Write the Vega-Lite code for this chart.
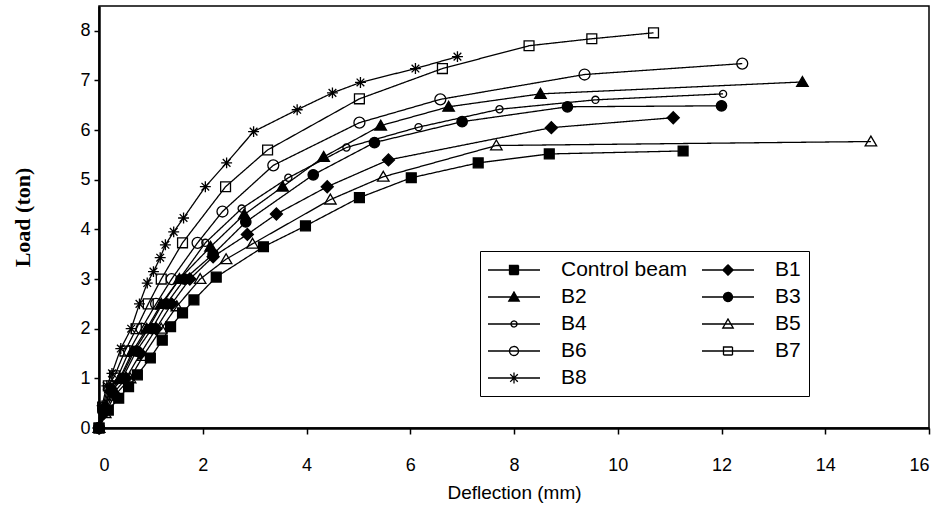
{
  "$schema": "https://vega.github.io/schema/vega-lite/v6.json",
  "width": 830,
  "height": 422,
  "autosize": {"type": "none"},
  "padding": {"left": 99, "top": 6, "right": 19, "bottom": 84},
  "config": {
    "view": {"stroke": "black", "strokeWidth": 1.5},
    "font": "Liberation Sans",
    "axis": {"domainColor": "black", "domainWidth": 2.5, "tickColor": "black", "tickWidth": 1.5, "grid": false, "labelColor": "black", "titleColor": "black", "labelFont": "Liberation Sans", "labelFontSize": 18}
  },
  "data": {
    "values": [
      {"s": "Control beam", "x": 0, "y": 0}, {"s": "Control beam", "x": 0.18, "y": 0.36}, {"s": "Control beam", "x": 0.38, "y": 0.6}, {"s": "Control beam", "x": 0.57, "y": 0.83}, {"s": "Control beam", "x": 0.74, "y": 1.07}, {"s": "Control beam", "x": 0.99, "y": 1.41}, {"s": "Control beam", "x": 1.22, "y": 1.77}, {"s": "Control beam", "x": 1.38, "y": 2.04}, {"s": "Control beam", "x": 1.61, "y": 2.32}, {"s": "Control beam", "x": 1.83, "y": 2.58}, {"s": "Control beam", "x": 2.26, "y": 3.04}, {"s": "Control beam", "x": 3.17, "y": 3.65}, {"s": "Control beam", "x": 3.98, "y": 4.07}, {"s": "Control beam", "x": 5.02, "y": 4.64}, {"s": "Control beam", "x": 6.02, "y": 5.04}, {"s": "Control beam", "x": 7.31, "y": 5.34}, {"s": "Control beam", "x": 8.68, "y": 5.52}, {"s": "Control beam", "x": 11.26, "y": 5.58},
      {"s": "B1", "x": 0, "y": 0}, {"s": "B1", "x": 0.1, "y": 0.3}, {"s": "B1", "x": 0.28, "y": 0.7}, {"s": "B1", "x": 0.52, "y": 1.0}, {"s": "B1", "x": 0.8, "y": 1.5}, {"s": "B1", "x": 1.1, "y": 2.0}, {"s": "B1", "x": 1.4, "y": 2.5}, {"s": "B1", "x": 1.75, "y": 3.0}, {"s": "B1", "x": 2.2, "y": 3.45}, {"s": "B1", "x": 2.86, "y": 3.9}, {"s": "B1", "x": 3.42, "y": 4.31}, {"s": "B1", "x": 4.4, "y": 4.86}, {"s": "B1", "x": 5.58, "y": 5.4}, {"s": "B1", "x": 8.72, "y": 6.05}, {"s": "B1", "x": 11.07, "y": 6.25},
      {"s": "B2", "x": 0, "y": 0}, {"s": "B2", "x": 0.1, "y": 0.4}, {"s": "B2", "x": 0.22, "y": 0.8}, {"s": "B2", "x": 0.4, "y": 1.0}, {"s": "B2", "x": 0.65, "y": 1.55}, {"s": "B2", "x": 0.92, "y": 2.0}, {"s": "B2", "x": 1.2, "y": 2.5}, {"s": "B2", "x": 1.55, "y": 3.0}, {"s": "B2", "x": 2.15, "y": 3.65}, {"s": "B2", "x": 2.8, "y": 4.3}, {"s": "B2", "x": 3.54, "y": 4.86}, {"s": "B2", "x": 4.33, "y": 5.46}, {"s": "B2", "x": 5.43, "y": 6.09}, {"s": "B2", "x": 6.74, "y": 6.47}, {"s": "B2", "x": 8.51, "y": 6.73}, {"s": "B2", "x": 13.56, "y": 6.97},
      {"s": "B3", "x": 0, "y": 0}, {"s": "B3", "x": 0.1, "y": 0.35}, {"s": "B3", "x": 0.25, "y": 0.75}, {"s": "B3", "x": 0.45, "y": 1.0}, {"s": "B3", "x": 0.72, "y": 1.55}, {"s": "B3", "x": 1.02, "y": 2.0}, {"s": "B3", "x": 1.3, "y": 2.5}, {"s": "B3", "x": 1.65, "y": 3.0}, {"s": "B3", "x": 2.2, "y": 3.5}, {"s": "B3", "x": 2.83, "y": 4.15}, {"s": "B3", "x": 4.13, "y": 5.1}, {"s": "B3", "x": 5.31, "y": 5.75}, {"s": "B3", "x": 7.0, "y": 6.17}, {"s": "B3", "x": 9.03, "y": 6.47}, {"s": "B3", "x": 12.0, "y": 6.49},
      {"s": "B4", "x": 0, "y": 0}, {"s": "B4", "x": 0.1, "y": 0.38}, {"s": "B4", "x": 0.22, "y": 0.75}, {"s": "B4", "x": 0.42, "y": 1.0}, {"s": "B4", "x": 0.68, "y": 1.55}, {"s": "B4", "x": 0.95, "y": 2.0}, {"s": "B4", "x": 1.22, "y": 2.5}, {"s": "B4", "x": 1.55, "y": 3.0}, {"s": "B4", "x": 2.05, "y": 3.73}, {"s": "B4", "x": 2.75, "y": 4.42}, {"s": "B4", "x": 3.65, "y": 5.04}, {"s": "B4", "x": 4.77, "y": 5.65}, {"s": "B4", "x": 6.16, "y": 6.06}, {"s": "B4", "x": 7.72, "y": 6.42}, {"s": "B4", "x": 9.57, "y": 6.61}, {"s": "B4", "x": 12.03, "y": 6.73},
      {"s": "B5", "x": 0, "y": 0}, {"s": "B5", "x": 0.12, "y": 0.3}, {"s": "B5", "x": 0.3, "y": 0.65}, {"s": "B5", "x": 0.6, "y": 1.0}, {"s": "B5", "x": 0.85, "y": 1.45}, {"s": "B5", "x": 1.2, "y": 2.0}, {"s": "B5", "x": 1.5, "y": 2.45}, {"s": "B5", "x": 1.95, "y": 3.0}, {"s": "B5", "x": 2.45, "y": 3.4}, {"s": "B5", "x": 2.96, "y": 3.71}, {"s": "B5", "x": 4.46, "y": 4.6}, {"s": "B5", "x": 5.48, "y": 5.06}, {"s": "B5", "x": 7.66, "y": 5.69}, {"s": "B5", "x": 14.88, "y": 5.77},
      {"s": "B6", "x": 0, "y": 0}, {"s": "B6", "x": 0.08, "y": 0.4}, {"s": "B6", "x": 0.2, "y": 0.8}, {"s": "B6", "x": 0.35, "y": 1.0}, {"s": "B6", "x": 0.58, "y": 1.55}, {"s": "B6", "x": 0.82, "y": 2.0}, {"s": "B6", "x": 1.1, "y": 2.5}, {"s": "B6", "x": 1.4, "y": 3.0}, {"s": "B6", "x": 1.9, "y": 3.73}, {"s": "B6", "x": 2.38, "y": 4.36}, {"s": "B6", "x": 3.36, "y": 5.29}, {"s": "B6", "x": 5.02, "y": 6.15}, {"s": "B6", "x": 6.58, "y": 6.62}, {"s": "B6", "x": 9.36, "y": 7.12}, {"s": "B6", "x": 12.4, "y": 7.34},
      {"s": "B7", "x": 0, "y": 0}, {"s": "B7", "x": 0.07, "y": 0.42}, {"s": "B7", "x": 0.18, "y": 0.85}, {"s": "B7", "x": 0.3, "y": 1.05}, {"s": "B7", "x": 0.5, "y": 1.55}, {"s": "B7", "x": 0.72, "y": 2.0}, {"s": "B7", "x": 0.95, "y": 2.5}, {"s": "B7", "x": 1.2, "y": 3.0}, {"s": "B7", "x": 1.61, "y": 3.73}, {"s": "B7", "x": 2.44, "y": 4.86}, {"s": "B7", "x": 3.25, "y": 5.6}, {"s": "B7", "x": 5.02, "y": 6.63}, {"s": "B7", "x": 6.62, "y": 7.24}, {"s": "B7", "x": 8.29, "y": 7.7}, {"s": "B7", "x": 9.5, "y": 7.84}, {"s": "B7", "x": 10.69, "y": 7.96},
      {"s": "B8", "x": 0, "y": 0}, {"s": "B8", "x": 0.06, "y": 0.45}, {"s": "B8", "x": 0.15, "y": 0.85}, {"s": "B8", "x": 0.25, "y": 1.1}, {"s": "B8", "x": 0.42, "y": 1.6}, {"s": "B8", "x": 0.62, "y": 2.0}, {"s": "B8", "x": 0.78, "y": 2.5}, {"s": "B8", "x": 0.93, "y": 2.92}, {"s": "B8", "x": 1.05, "y": 3.15}, {"s": "B8", "x": 1.18, "y": 3.43}, {"s": "B8", "x": 1.28, "y": 3.69}, {"s": "B8", "x": 1.44, "y": 3.95}, {"s": "B8", "x": 1.63, "y": 4.23}, {"s": "B8", "x": 2.05, "y": 4.86}, {"s": "B8", "x": 2.46, "y": 5.34}, {"s": "B8", "x": 2.98, "y": 5.97}, {"s": "B8", "x": 3.82, "y": 6.41}, {"s": "B8", "x": 4.5, "y": 6.75}, {"s": "B8", "x": 5.04, "y": 6.96}, {"s": "B8", "x": 6.1, "y": 7.24}, {"s": "B8", "x": 6.91, "y": 7.48}
    ]
  },
  "encoding": {
    "x": {"field": "x", "type": "quantitative", "scale": {"domain": [0, 16], "nice": false}, "axis": {"values": [0, 2, 4, 6, 8, 10, 12, 14, 16], "title": "Deflection (mm)", "titleFontSize": 19, "titleFontWeight": "normal", "titleFont": "Liberation Sans", "labelPadding": 22, "tickSize": 6, "titlePadding": 9}},
    "y": {"field": "y", "type": "quantitative", "scale": {"domain": [0, 8.5], "nice": false}, "axis": {"values": [0, 1, 2, 3, 4, 5, 6, 7, 8], "title": "Load (ton)", "titleFont": "Liberation Serif", "titleFontSize": 22, "titleFontWeight": "bold", "tickSize": 5, "labelPadding": 4, "titlePadding": 45}}
  },
  "layer": [
    {
      "mark": {"type": "line", "color": "black", "strokeWidth": 1.3},
      "encoding": {
        "strokeDash": {
          "field": "s", "type": "nominal",
          "scale": {"domain": ["Control beam", "B1", "B2", "B3", "B4", "B5", "B6", "B7", "B8"], "range": [[1, 0], [1, 0], [1, 0], [1, 0], [1, 0], [1, 0], [1, 0], [1, 0], [1, 0]]},
          "legend": {
            "orient": "none", "legendX": 381, "legendY": 245, "direction": "horizontal", "columns": 2, "gridAlign": "all", "title": null,
            "symbolSize": 400, "symbolOffset": 15, "labelFontSize": 21, "labelFont": "Liberation Sans", "labelColor": "black", "labelOffset": 36,
            "labelExpr": "datum.label === 'Control beam' ? datum.label : datum.label + '\u00a0\u00a0\u00a0\u00a0\u00a0\u00a0\u00a0\u00a0\u00a0\u00a0\u00a0\u00a0\u00a0\u00a0\u00a0\u00a0\u00a0\u00a0\u00a0\u00a0'",
            "columnPadding": 11, "rowPadding": 6, "padding": 8, "strokeColor": "black", "fillColor": "white",
            "symbolStrokeColor": "black", "symbolStrokeWidth": 1.3,
            "symbolType": {"expr": "datum.value === 'Control beam' ? 'M-2.6,0L2.6,0M-0.45,-0.45H0.45V0.45H-0.45Z' : datum.value === 'B1' ? 'M-2.6,0L2.6,0M0,-0.52L0.52,0L0,0.52L-0.52,0Z' : datum.value === 'B2' ? 'M-2.6,0L2.6,0M0,-0.5L0.52,0.4L-0.52,0.4Z' : datum.value === 'B3' ? 'M-2.6,0L2.6,0M0.45,0A0.45,0.45,0,1,1,-0.45,0A0.45,0.45,0,1,1,0.45,0Z' : datum.value === 'B4' ? 'M-2.6,0L2.6,0M0.3,0A0.3,0.3,0,1,1,-0.3,0A0.3,0.3,0,1,1,0.3,0Z' : datum.value === 'B5' ? 'M-2.6,0L2.6,0M0,-0.5L0.52,0.4L-0.52,0.4Z' : datum.value === 'B6' ? 'M-2.6,0L2.6,0M0.45,0A0.45,0.45,0,1,1,-0.45,0A0.45,0.45,0,1,1,0.45,0Z' : datum.value === 'B7' ? 'M-2.6,0L2.6,0M-0.45,-0.4H0.45V0.4H-0.45Z' : 'M-2.6,0L2.6,0M-0.5,0L0.5,0M0,-0.55L0,0.55M-0.38,-0.38L0.38,0.38M-0.38,0.38L0.38,-0.38'"},
            "symbolFillColor": {"expr": "indexof(['Control beam','B1','B2','B3'], datum.value) >= 0 ? 'black' : 'transparent'"}
          }
        }
      }
    },
    {
      "mark": {"type": "point", "stroke": "black", "strokeWidth": 1.3, "opacity": 1, "size": 120},
      "encoding": {
        "shape": {
          "field": "s", "type": "nominal",
          "scale": {
            "domain": ["B8", "B7", "B6", "B5", "B4", "B3", "B2", "B1", "Control beam"],
            "range": ["M-1,0L1,0M0,-1L0,1M-0.7,-0.7L0.7,0.7M-0.7,0.7L0.7,-0.7", "M-0.9,-0.9H0.9V0.9H-0.9Z", "M1,0A1,1,0,1,1,-1,0A1,1,0,1,1,1,0Z", "M0,-1L1.05,0.8L-1.05,0.8Z", "M0.65,0A0.65,0.65,0,1,1,-0.65,0A0.65,0.65,0,1,1,0.65,0Z", "M0.95,0A0.95,0.95,0,1,1,-0.95,0A0.95,0.95,0,1,1,0.95,0Z", "M0,-1L1.05,0.8L-1.05,0.8Z", "M0,-1.1L1.1,0L0,1.1L-1.1,0Z", "M-0.9,-0.9H0.9V0.9H-0.9Z"]
          },
          "legend": null
        },
        "fill": {
          "field": "s", "type": "nominal",
          "scale": {"domain": ["B8", "B7", "B6", "B5", "B4", "B3", "B2", "B1", "Control beam"], "range": ["transparent", "transparent", "transparent", "transparent", "transparent", "black", "black", "black", "black"]},
          "legend": null
        }
      }
    }
  ]
}
